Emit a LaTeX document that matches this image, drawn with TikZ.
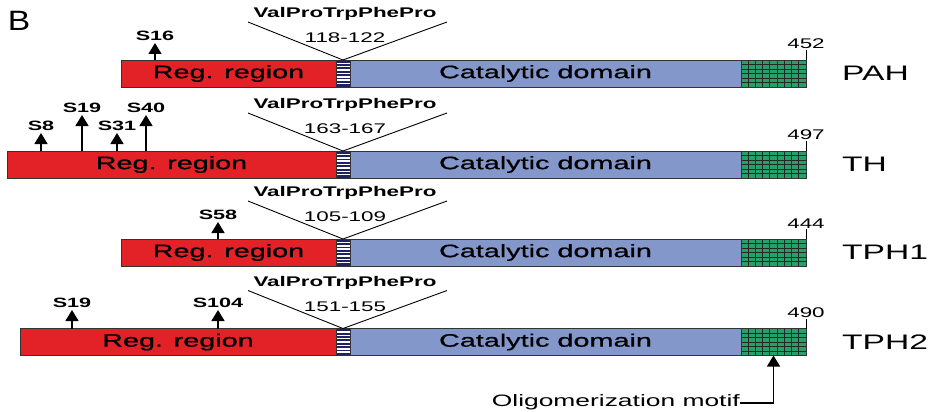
\documentclass[tikz,border=0pt]{standalone}
\usepackage{fontspec}
\setmainfont{Liberation Sans}[FakeStretch=1.6]
\newfontfamily\boxfont{Liberation Sans}[FakeStretch=1.6, FakeBold=0.8]
\newfontfamily\panelfont{Liberation Sans}[FakeStretch=1.2]
\usetikzlibrary{positioning,arrows.meta}

\definecolor{regred}{RGB}{227,34,40}
\definecolor{catblue}{RGB}{132,151,203}
\definecolor{oligreen}{RGB}{38,160,105}
\definecolor{linknavy}{RGB}{32,32,100}

\tikzset{
  dombox/.style={draw=black!80, line width=0.9pt, minimum height=27pt, inner sep=0pt, outer sep=0pt,
    font=\boxfont\fontsize{18}{18}\selectfont},
  regbox/.style={dombox, fill=regred},
  catbox/.style={dombox, fill=catblue, minimum width=391pt},
  linkbox/.style={dombox, fill=linknavy, minimum width=14pt, path picture={
    \foreach \k in {1,...,7}
      \draw[white, line width=1.5pt] ([yshift=\k*3.375pt]path picture bounding box.south west)
        -- ([yshift=\k*3.375pt]path picture bounding box.south east);}},
  oligbox/.style={dombox, fill=oligreen, minimum width=65pt, path picture={
    \foreach \k in {1,...,8}
      \draw[black!85, line width=0.9pt] ([xshift=\k*7.22pt]path picture bounding box.south west)
        -- ([xshift=\k*7.22pt]path picture bounding box.north west);
    \foreach \k in {1,...,5}
      \draw[black!85, line width=0.9pt] ([yshift=\k*4.5pt]path picture bounding box.south west)
        -- ([yshift=\k*4.5pt]path picture bounding box.south east);}},
  sitetext/.style={font=\bfseries\fontsize{13.5}{14}\selectfont, inner sep=2.5pt, anchor=south},
  site/.style={-{Triangle[width=13pt,length=11pt]}, line width=1.5pt},
  motiftext/.style={font=\bfseries\fontsize{14}{14}\selectfont, inner sep=0pt},
  postext/.style={font=\fontsize{14}{14}\selectfont, inner sep=0pt},
  numtext/.style={font=\fontsize{14}{14}\selectfont, inner sep=0.5pt},
  rowtext/.style={font=\fontsize{21}{21}\selectfont, inner sep=0pt},
  vline/.style={line width=0.9pt}
}

\begin{document}
\begin{tikzpicture}[x=1pt, y=-1pt]
\useasboundingbox (0,0) rectangle (945,412);

\node[inner sep=0pt, font=\panelfont\fontsize{28}{28}\selectfont] (panel) at (19,21) {B};

% PAH
\node[regbox, minimum width=215pt] (pahreg) at (228.5,73.5) {Reg. region};
\node[linkbox, right=0pt of pahreg] (pahlink) {};
\node[catbox, right=0pt of pahlink] (pahcat) {Catalytic domain};
\node[oligbox, right=0pt of pahcat] (paholig) {};
\node[rowtext, right=36pt of paholig] (pahname) {PAH};
\draw[vline] (paholig.north east) -- ++(0,-10) node[numtext, above] (pahend) {452};
\draw[vline] ([shift={(-95,-38)}]pahlink.north) -- (pahlink.north) -- ++(104,-38);
\node[motiftext] (pahmotif) at ([shift={(2,-46)}]pahlink.north) {ValProTrpPhePro};
\node[postext] (pahpos) at ([shift={(2,-22)}]pahlink.north) {118-122};
\node[sitetext] (pahs16) at (155,43) {S16};
\draw[site] (pahs16 |- pahreg.north) -- (pahs16);

% TH
\node[regbox, minimum width=329pt] (threg) at (171.5,164.5) {Reg. region};
\node[linkbox, right=0pt of threg] (thlink) {};
\node[catbox, right=0pt of thlink] (thcat) {Catalytic domain};
\node[oligbox, right=0pt of thcat] (tholig) {};
\node[rowtext, right=36pt of tholig] (thname) {TH};
\draw[vline] (tholig.north east) -- ++(0,-10) node[numtext, above] (thend) {497};
\draw[vline] ([shift={(-95,-38)}]thlink.north) -- (thlink.north) -- ++(104,-38);
\node[motiftext] (thmotif) at ([shift={(2,-46)}]thlink.north) {ValProTrpPhePro};
\node[postext] (thpos) at ([shift={(2,-22)}]thlink.north) {163-167};
\node[sitetext] (ths8) at (41,133) {S8};
\node[sitetext] (ths19) at (82,115) {S19};
\node[sitetext] (ths31) at (117,133) {S31};
\node[sitetext] (ths40) at (146,115) {S40};
\draw[site] (ths8 |- threg.north) -- (ths8);
\draw[site] (ths19 |- threg.north) -- (ths19);
\draw[site] (ths31 |- threg.north) -- (ths31);
\draw[site] (ths40 |- threg.north) -- (ths40);

% TPH1
\node[regbox, minimum width=215pt] (tpha) at (228.5,252.5) {Reg. region};
\node[linkbox, right=0pt of tpha] (tphalink) {};
\node[catbox, right=0pt of tphalink] (tphacat) {Catalytic domain};
\node[oligbox, right=0pt of tphacat] (tphaolig) {};
\node[rowtext, right=36pt of tphaolig] (tphaname) {TPH1};
\draw[vline] (tphaolig.north east) -- ++(0,-10) node[numtext, above] (tphaend) {444};
\draw[vline] ([shift={(-95,-38)}]tphalink.north) -- (tphalink.north) -- ++(104,-38);
\node[motiftext] (tphamotif) at ([shift={(2,-46)}]tphalink.north) {ValProTrpPhePro};
\node[postext] (tphapos) at ([shift={(2,-22)}]tphalink.north) {105-109};
\node[sitetext] (tphas58) at (218,222) {S58};
\draw[site] (tphas58 |- tpha.north) -- (tphas58);

% TPH2
\node[regbox, minimum width=316pt] (tphb) at (178,342) {Reg. region};
\node[linkbox, right=0pt of tphb] (tphblink) {};
\node[catbox, right=0pt of tphblink] (tphbcat) {Catalytic domain};
\node[oligbox, right=0pt of tphbcat] (tphbolig) {};
\node[rowtext, right=36pt of tphbolig] (tphbname) {TPH2};
\draw[vline] (tphbolig.north east) -- ++(0,-10) node[numtext, above] (tphbend) {490};
\draw[vline] ([shift={(-95,-38)}]tphblink.north) -- (tphblink.north) -- ++(104,-38);
\node[motiftext] (tphbmotif) at ([shift={(2,-46)}]tphblink.north) {ValProTrpPhePro};
\node[postext] (tphbpos) at ([shift={(2,-22)}]tphblink.north) {151-155};
\node[sitetext] (tphbs19) at (72,310) {S19};
\node[sitetext] (tphbs104) at (218,310) {S104};
\draw[site] (tphbs19 |- tphb.north) -- (tphbs19);
\draw[site] (tphbs104 |- tphb.north) -- (tphbs104);

% oligomerization motif
\node[postext, font=\fontsize{16.5}{16.5}\selectfont, anchor=base east] (oligo) at (740,406) {Oligomerization motif};
\draw[site, line width=1.3pt] ([yshift=3pt]oligo.base east) -| (tphbolig.south);
\end{tikzpicture}
\end{document}
